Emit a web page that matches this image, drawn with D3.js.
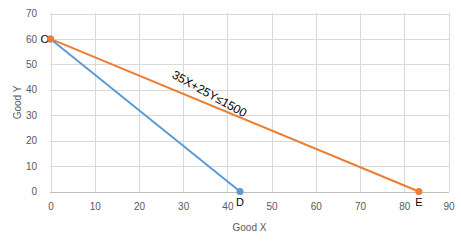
<!DOCTYPE html>
<html>
<head>
<meta charset="utf-8">
<script src="https://cdn.jsdelivr.net/npm/d3@7"></script>
<style>
  body { margin: 0; background: #fff; }
  svg { display: block; }
  .axis text { font-family: "Liberation Sans", Arial, sans-serif; font-size: 10px; fill: #595959; }
  .axis path, .axis line { stroke: none; }
  .grid line { stroke: #d9d9d9; stroke-width: 1; }
</style>
</head>
<body>
<svg id="chart"></svg>
<script>
// data
const xTicks = [0, 10, 20, 30, 40, 50, 60, 70, 80, 90];
const yTicks = [0, 10, 20, 30, 40, 50, 60, 70];
const blueLine = [{x: 0, y: 60, label: "C"}, {x: 42.86, y: 0, label: "D"}];
const orangeLine = [{x: 0, y: 60, label: "C"}, {x: 83.3, y: 0, label: "E"}];
const constraintLabel = "35X+25Y\u22641500";
const xTitle = "Good X";
const yTitle = "Good Y";

const width = 461, height = 246;
const margin = {top: 13, right: 12, bottom: 54, left: 50};

const svg = d3.select("#chart").attr("width", width).attr("height", height);
const chart = svg.append("g")
    .attr("transform", `translate(${margin.left},${margin.top})`);

const w = width - margin.left - margin.right;
const h = height - margin.top - margin.bottom;

const xScale = d3.scaleLinear().domain([0, 90]).range([0.5, w - 0.5]);
const yScale = d3.scaleLinear().domain([0, 70]).range([h - 0.5, 0.5]);

// gridlines
chart.append("g").attr("class", "grid")
  .selectAll("line.h").data(yTicks.filter(d => d > 0)).enter().append("line")
    .attr("x1", 0).attr("x2", w)
    .attr("y1", d => Math.round(yScale(d)) + 0.5).attr("y2", d => Math.round(yScale(d)) + 0.5);
chart.append("g").attr("class", "grid")
  .selectAll("line.v").data(xTicks).enter().append("line")
    .attr("y1", 0).attr("y2", h)
    .attr("x1", d => Math.round(xScale(d)) + 0.5).attr("x2", d => Math.round(xScale(d)) + 0.5);

// bottom axis line
chart.append("line")
    .attr("x1", 0).attr("x2", w)
    .attr("y1", Math.round(yScale(0)) + 0.5).attr("y2", Math.round(yScale(0)) + 0.5)
    .attr("stroke", "#bfbfbf");

// axes
const xAxis = d3.axisBottom(xScale).tickValues(xTicks).tickSize(0).tickPadding(11);
const yAxis = d3.axisLeft(yScale).tickValues(yTicks).tickSize(0).tickPadding(13);
chart.append("g").attr("class", "axis")
    .attr("transform", `translate(0,${h})`).call(xAxis);
chart.append("g").attr("class", "axis").call(yAxis);

// axis titles
svg.append("text")
    .attr("x", margin.left + xScale(45)).attr("y", 231)
    .attr("text-anchor", "middle")
    .style("font-family", "Liberation Sans, Arial, sans-serif")
    .style("font-size", "10px").style("fill", "#595959")
    .text(xTitle);
svg.append("text")
    .attr("transform", `translate(21,${margin.top + yScale(35)}) rotate(-90)`)
    .attr("text-anchor", "middle")
    .style("font-family", "Liberation Sans, Arial, sans-serif")
    .style("font-size", "10px").style("fill", "#595959")
    .text(yTitle);

// lines
const line = d3.line().x(d => xScale(d.x)).y(d => yScale(d.y));
chart.append("path").datum(blueLine)
    .attr("d", line).attr("fill", "none")
    .attr("stroke", "#5b9bd5").attr("stroke-width", 2);
chart.append("path").datum(orangeLine)
    .attr("d", line).attr("fill", "none")
    .attr("stroke", "#ed7d31").attr("stroke-width", 2);

// markers
chart.selectAll(".m-blue").data(blueLine).enter().append("circle")
    .attr("cx", d => xScale(d.x)).attr("cy", d => yScale(d.y))
    .attr("r", 3.5).attr("fill", "#5b9bd5");
chart.selectAll(".m-orange").data(orangeLine).enter().append("circle")
    .attr("cx", d => xScale(d.x)).attr("cy", d => yScale(d.y))
    .attr("r", 3.5).attr("fill", "#ed7d31");

// point labels
const pointFont = "Liberation Sans, Arial, sans-serif";
chart.append("text")
    .attr("x", xScale(0) - 2).attr("y", yScale(60) + 4)
    .attr("text-anchor", "end")
    .style("font-family", pointFont).style("font-size", "11px").style("fill", "#000")
    .text(blueLine[0].label);
chart.append("text")
    .attr("x", xScale(blueLine[1].x)).attr("y", yScale(0) + 14)
    .attr("text-anchor", "middle")
    .style("font-family", pointFont).style("font-size", "11px").style("fill", "#000")
    .text(blueLine[1].label);
chart.append("text")
    .attr("x", xScale(orangeLine[1].x)).attr("y", yScale(0) + 14)
    .attr("text-anchor", "middle")
    .style("font-family", pointFont).style("font-size", "11px").style("fill", "#000")
    .text(orangeLine[1].label);

// constraint label
chart.append("text")
    .attr("transform", `translate(${xScale(35.5)},${yScale(37)}) rotate(29)`)
    .attr("text-anchor", "middle")
    .style("font-family", pointFont).style("font-size", "12px").style("fill", "#000")
    .text(constraintLabel);
</script>
</body>
</html>
